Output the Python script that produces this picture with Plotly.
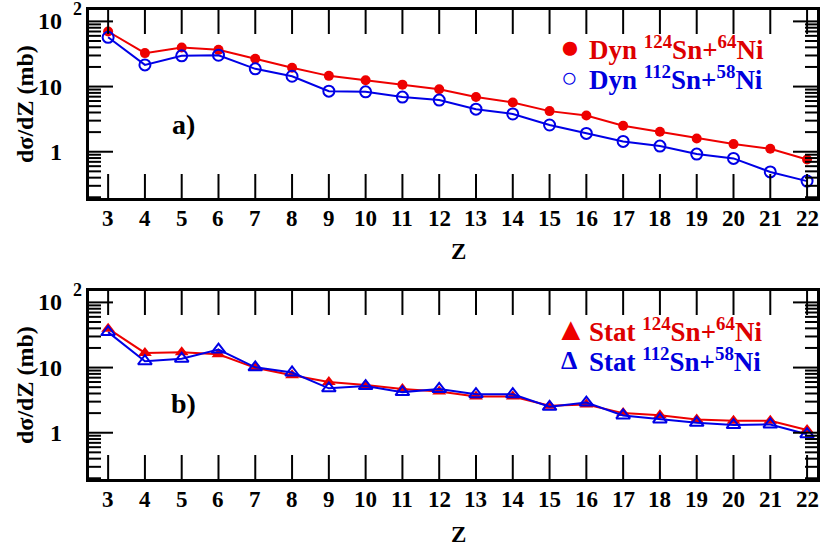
import math
import plotly.graph_objects as go

Z = list(range(3, 23))
dyn_124 = [70, 32.6, 39.8, 36.6, 26.7, 19.4, 14.6, 12.5, 10.7, 9.1, 6.9, 5.7, 4.2, 3.6, 2.51, 2.03, 1.6, 1.31, 1.11, 0.76]
dyn_112 = [57, 21.5, 29.6, 30.3, 18.7, 14.4, 8.5, 8.3, 6.9, 6.2, 4.5, 3.8, 2.57, 1.91, 1.44, 1.22, 0.92, 0.79, 0.49, 0.354]
stat_124 = [39.5, 16.8, 17.2, 16.0, 9.9, 7.6, 6.0, 5.4, 4.7, 4.3, 3.6, 3.6, 2.6, 2.7, 2.0, 1.86, 1.6, 1.53, 1.53, 1.1]
stat_112 = [35, 12.5, 13.7, 18.9, 10.1, 8.4, 4.8, 5.2, 4.2, 4.7, 3.9, 3.9, 2.5, 2.9, 1.84, 1.6, 1.42, 1.31, 1.34, 0.95]

y_tickvals = [1, 10, 100]
y_ticktext = ["1", "10", "10"]
minor_vals = [v * m for m in (0.1, 1, 10) for v in range(2, 10)]

RED = "#ee0000"
BLUE = "#0000e6"
RED_TXT = "#dd0000"
BLUE_TXT = "#0000dd"
FONT = "Liberation Serif"

fig = go.Figure()
fig.add_trace(go.Scatter(x=Z, y=dyn_124, mode="lines+markers", xaxis="x", yaxis="y",
                         line=dict(color=RED, width=2), marker=dict(symbol="circle", size=10, color=RED)))
fig.add_trace(go.Scatter(x=Z, y=dyn_112, mode="lines+markers", xaxis="x", yaxis="y",
                         line=dict(color=BLUE, width=2),
                         marker=dict(symbol="circle-open", size=11, color=BLUE, line=dict(width=2))))
fig.add_trace(go.Scatter(x=Z, y=stat_124, mode="lines+markers", xaxis="x2", yaxis="y2",
                         line=dict(color=RED, width=2), marker=dict(symbol="triangle-up", size=12, color=RED)))
fig.add_trace(go.Scatter(x=Z, y=stat_112, mode="lines+markers", xaxis="x2", yaxis="y2",
                         line=dict(color=BLUE, width=2),
                         marker=dict(symbol="triangle-up-open", size=12, color=BLUE, line=dict(width=2))))

W, H = 821, 551
PX0, PX1 = 89, 817
xdom = [PX0 / W, PX1 / W]
PW = PX1 - PX0
PH = 188

def xax(anchor):
    return dict(domain=xdom, anchor=anchor, range=[2.48, 22.27], tickvals=Z, showticklabels=False,
                ticks="", showline=True, linewidth=3, linecolor="black", mirror=True,
                showgrid=False, zeroline=False)

def yax(anchor, dom):
    return dict(domain=dom, anchor=anchor, type="log", range=[-0.71, 2.175],
                tickvals=y_tickvals, showticklabels=False,
                ticks="", showline=True, linewidth=3, linecolor="black", mirror=True,
                showgrid=False, zeroline=False)

fig.update_layout(
    width=W, height=H, margin=dict(l=0, r=0, t=0, b=0),
    paper_bgcolor="white", plot_bgcolor="white", showlegend=False,
    xaxis=xax("y"), yaxis=yax("x", [(H - 198) / H, (H - 10) / H]),
    xaxis2=xax("y2"), yaxis2=yax("x2", [(H - 479) / H, (H - 291) / H]),
)

# inward tick marks on all four sides and tick labels, placed through the axes
tick_line = dict(color="black", width=2)
for xr, yr in (("x", "y"), ("x2", "y2")):
    for z in Z:
        for a, b in ((0, 24 / PH), (1, 1 - 24 / PH)):
            fig.add_shape(type="line", xref=xr, yref=yr + " domain", x0=z, x1=z, y0=a, y1=b,
                          line=tick_line, layer="above")
        fig.add_annotation(xref=xr, yref=yr + " domain", x=z, y=0, text="<b>%d</b>" % z,
                           showarrow=False, xanchor="center", yanchor="middle", yshift=-20,
                           font=dict(family=FONT, size=23, color="black"))
    for v, ln in [(v, 24) for v in y_tickvals] + [(v, 12) for v in minor_vals]:
        for a, b in ((0, ln / PW), (1, 1 - ln / PW)):
            fig.add_shape(type="line", xref=xr + " domain", yref=yr, x0=a, x1=b, y0=v, y1=v,
                          line=tick_line, layer="above")
    # y tick labels (log axis: annotation y is log10 of the value)
    for v, t in zip(y_tickvals, y_ticktext):
        fig.add_annotation(xref=xr + " domain", yref=yr, x=0, y=math.log10(v), text="<b>" + t + "</b>",
                           showarrow=False, xanchor="right", yanchor="middle", xshift=-25,
                           font=dict(family=FONT, size=24, color="black"))
    # exponent of the 10^2 label
    fig.add_annotation(xref=xr + " domain", yref=yr, x=0, y=math.log10(y_tickvals[-1]), text="<b>2</b>",
                       showarrow=False, xanchor="center", yanchor="middle", xshift=-12, yshift=12,
                       font=dict(family=FONT, size=18, color="black"))

def ann(x, y, text, size=21, color="black", xanchor="center", angle=0):
    fig.add_annotation(x=x / W, y=1 - y / H, xref="paper", yref="paper", text=text,
                       showarrow=False, xanchor=xanchor, yanchor="middle", textangle=angle,
                       font=dict(family=FONT, size=size, color=color))

bold = lambda s: "<b>" + s + "</b>"
ann(25, 104, bold("dσ/dZ (mb)"), size=24, angle=-90)
ann(25, 385, bold("dσ/dZ (mb)"), size=24, angle=-90)
ann(458, 251, bold("Z"), size=23)
ann(458, 534, bold("Z"), size=23)
ann(183, 125, bold("a)"), size=28)
ann(183, 403, bold("b)"), size=28)
ann(570, 47, "●", size=33, color=RED)
ann(587, 48, bold("Dyn <sup>124</sup>Sn+<sup>64</sup>Ni"), size=27, color=RED_TXT, xanchor="left")
ann(569, 78, "○", size=28, color=BLUE)
ann(587, 78, bold("Dyn <sup>112</sup>Sn+<sup>58</sup>Ni"), size=27, color=BLUE_TXT, xanchor="left")
ann(571, 329, "▲", size=32, color=RED)
ann(587, 330, bold("Stat <sup>124</sup>Sn+<sup>64</sup>Ni"), size=27, color=RED_TXT, xanchor="left")
ann(569, 360, bold("Δ"), size=26, color=BLUE_TXT)
ann(587, 360, bold("Stat <sup>112</sup>Sn+<sup>58</sup>Ni"), size=27, color=BLUE_TXT, xanchor="left")

fig.write_html("out.html", config={"displayModeBar": False},
               post_script="document.body.style.margin='0px';document.body.style.padding='0px';")
